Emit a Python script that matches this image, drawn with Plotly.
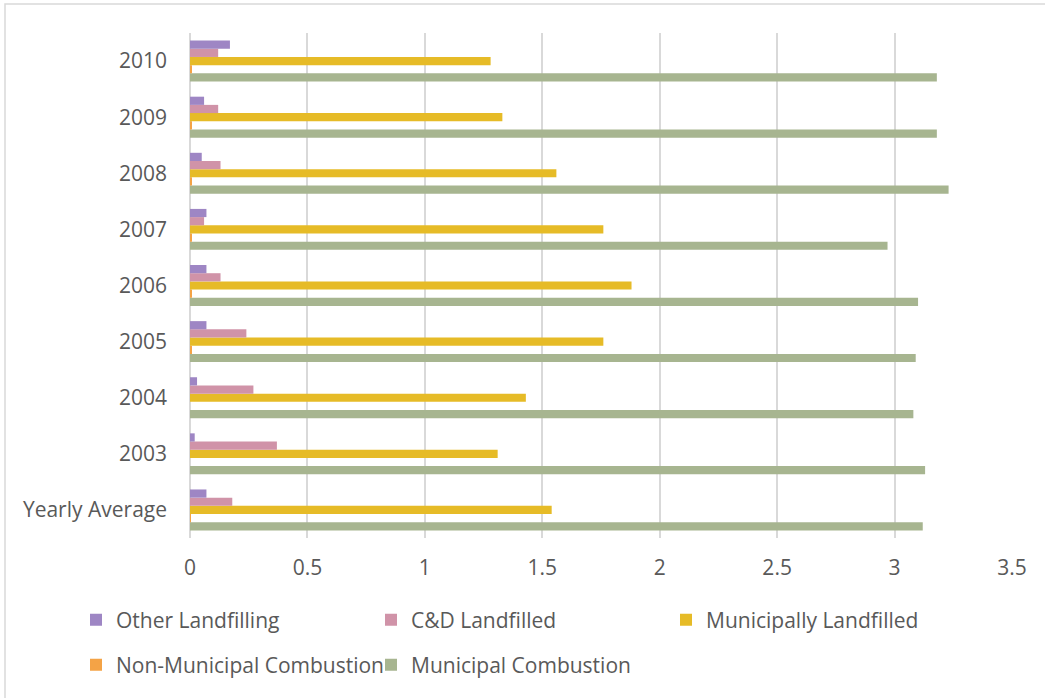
import plotly.graph_objects as go

# Categories, bottom to top on the vertical axis
categories = ["Yearly Average", "2003", "2004", "2005", "2006", "2007", "2008", "2009", "2010"]

# Series values, same order as categories
other_landfilling = [0.07, 0.02, 0.03, 0.07, 0.07, 0.07, 0.05, 0.06, 0.17]
cd_landfilled = [0.18, 0.37, 0.27, 0.24, 0.13, 0.06, 0.13, 0.12, 0.12]
municipally_landfilled = [1.54, 1.31, 1.43, 1.76, 1.88, 1.76, 1.56, 1.33, 1.28]
non_municipal_combustion = [0.004, 0.0, 0.0, 0.005, 0.005, 0.005, 0.005, 0.005, 0.005]
municipal_combustion = [3.12, 3.13, 3.08, 3.09, 3.10, 2.97, 3.23, 3.18, 3.18]

x_ticks = [0, 0.5, 1, 1.5, 2, 2.5, 3, 3.5]
x_tick_labels = ["0", "0.5", "1", "1.5", "2", "2.5", "3", "3.5"]

FONT = "Open Sans"
TEXT = "#595959"
GRID = "#d9d9d9"

# Plot-area geometry in pixels (used to place legends and the frame)
L, R, T, B = 190, 1012, 33, 538
PW, PH = R - L, B - T

# (name, values, colour, legend) — drawn bottom-up within each group
series = [
    ("Municipal Combustion", municipal_combustion, "#a7b590", "legend2"),
    ("Non-Municipal Combustion", non_municipal_combustion, "#f4a346", "legend2"),
    ("Municipally Landfilled", municipally_landfilled, "#e6bb27", "legend"),
    ("C&D Landfilled", cd_landfilled, "#d093a8", "legend"),
    ("Other Landfilling", other_landfilling, "#9e86c4", "legend"),
]

fig = go.Figure()
for name, vals, color, leg in series:
    fig.add_trace(go.Bar(
        y=categories, x=vals, name=name, orientation="h",
        marker=dict(color=color, line=dict(width=0)),
        legend=leg,
    ))

legend_common = dict(
    orientation="h", xref="paper", yref="paper",
    xanchor="left", yanchor="middle", traceorder="reversed",
    font=dict(family=FONT, size=21, color=TEXT),
    entrywidth=250, bgcolor="rgba(0,0,0,0)",
    x=(76 - L) / PW,
)

fig.update_layout(
    width=1045, height=698,
    margin=dict(l=L, r=1045 - R, t=T, b=698 - B, autoexpand=False),
    paper_bgcolor="white", plot_bgcolor="white",
    barmode="group", bargap=0.27, bargroupgap=0,
    font=dict(family=FONT, size=21, color=TEXT),
    legend=dict(**legend_common, y=(B - 620) / PH),
    legend2=dict(**legend_common, y=(B - 665) / PH),
    xaxis=dict(
        range=[0, 3.5], tickvals=x_ticks, ticktext=x_tick_labels,
        showgrid=True, gridcolor=GRID, gridwidth=1.5,
        zeroline=True, zerolinecolor=GRID, zerolinewidth=1.5,
        showline=False, ticks="", ticklabelstandoff=15,
        tickfont=dict(family=FONT, size=21, color=TEXT),
        fixedrange=True,
    ),
    yaxis=dict(
        type="category", categoryorder="array", categoryarray=categories,
        range=[-0.5, 8.5], showgrid=False, zeroline=False, showline=False,
        ticks="", ticklabelstandoff=22,
        tickfont=dict(family=FONT, size=21, color=TEXT),
        fixedrange=True,
    ),
    shapes=[dict(
        type="rect", xref="paper", yref="paper",
        x0=(5 - L) / PW, x1=1.2, y0=-0.5, y1=(B - 4) / PH,
        line=dict(color=GRID, width=1.5), fillcolor="rgba(0,0,0,0)",
        layer="below",
    )],
)

fig.write_html("out.html")
